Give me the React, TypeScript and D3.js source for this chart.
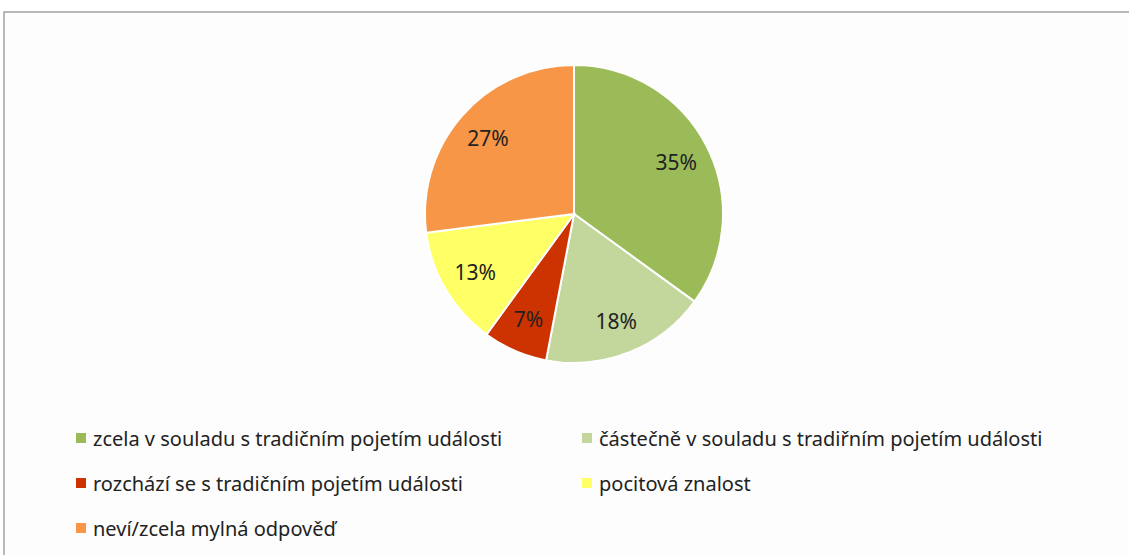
import * as d3 from 'd3'

const categories = [
  'zcela v souladu s tradičním pojetím události',
  'částečně v souladu s tradiřním pojetím události',
  'rozchází se s tradičním pojetím události',
  'pocitová znalost',
  'neví/zcela mylná odpověď',
]
const values = [35, 18, 7, 13, 27]
const colors = ['#9BBB59', '#C3D69B', '#CC3300', '#FFFF66', '#F79646']

const W = 1129
const H = 555
const cx = 574
const cy = 214
const radius = 149

export default function App() {
  const pie = d3.pie<number>().sort(null).value((d) => d)
  const arcs = pie(values)
  const arc = d3.arc<d3.PieArcDatum<number>>().innerRadius(0).outerRadius(radius)
  const labelArc = d3
    .arc<d3.PieArcDatum<number>>()
    .innerRadius(radius * 0.77)
    .outerRadius(radius * 0.77)
  const total = d3.sum(values)

  // legend grid: 2 columns, 45px rows
  const colX = [76, 582]
  const rowY = [438, 483, 528]

  return (
    <svg
      width={W}
      height={H}
      style={{ position: 'absolute', left: 0, top: 0 }}
      fontFamily="'Noto Sans', sans-serif"
    >
      <rect x={0} y={0} width={W} height={H} fill="#ffffff" />
      <rect x={4} y={12} width={W + 10} height={H + 10} fill="#fdfdfd" stroke="#8c8c8c" strokeWidth={1.2} />

      <g transform={`translate(${cx},${cy})`}>
        {arcs.map((a, i) => (
          <path key={i} d={arc(a) ?? ''} fill={colors[i]} stroke="#ffffff" strokeWidth={2} />
        ))}
        {arcs.map((a, i) => {
          const [x, y] = labelArc.centroid(a)
          return (
            <text
              key={i}
              x={x}
              y={y}
              textAnchor="middle"
              dominantBaseline="central"
              fontSize={21}
              fill="#222222"
            >
              {Math.round((a.data / total) * 100)}%
            </text>
          )
        })}
      </g>

      {categories.map((c, i) => {
        const x = colX[i % 2]
        const y = rowY[Math.floor(i / 2)]
        return (
          <g key={c} transform={`translate(${x},${y})`}>
            <rect x={0} y={-5} width={10} height={10} fill={colors[i]} />
            <text x={17} y={0} dominantBaseline="central" fontSize={20} fill="#222222">
              {c}
            </text>
          </g>
        )
      })}
    </svg>
  )
}
